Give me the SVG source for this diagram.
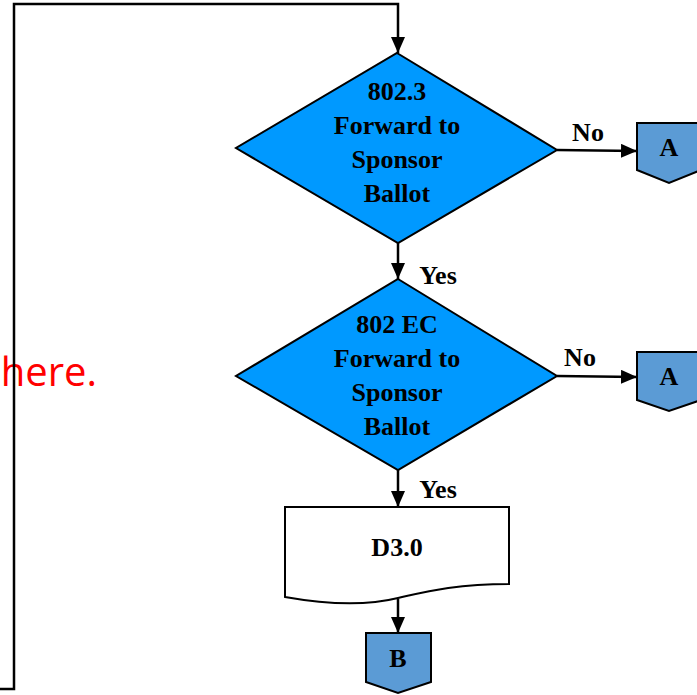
<svg xmlns="http://www.w3.org/2000/svg" width="697" height="695" viewBox="0 0 697 695">
<defs>
<marker id="arr" markerWidth="16" markerHeight="14" refX="16" refY="7" orient="auto" markerUnits="userSpaceOnUse" viewBox="0 0 16 14"><path d="M0,0 L16,7 L0,14 Z" fill="#000"/></marker>
<style>
.lbl{font-family:"Liberation Serif",serif;font-weight:bold;font-size:26px;fill:#000;text-anchor:middle}
.dia{fill:#0099ff;stroke:#000;stroke-width:2}
.off{fill:#5b9bd5;stroke:#000;stroke-width:2}
.con{fill:none;stroke:#000;stroke-width:2.5}
</style>
</defs>
<rect width="697" height="695" fill="#fff"/>
<text x="97" y="386" font-family="Open Sans, sans-serif" font-size="40" fill="#ff0000" text-anchor="end">here.</text>
<g id="connectors">
<path class="con" d="M0,689 H14 V4 H398 V53" marker-end="url(#arr)"/>
<path class="con" d="M557,150 L637,151" marker-end="url(#arr)"/>
<path class="con" d="M398,243 V279" marker-end="url(#arr)"/>
<path class="con" d="M557,376 L637,377" marker-end="url(#arr)"/>
<path class="con" d="M398,470 V507" marker-end="url(#arr)"/>
<path class="con" d="M398,599 V633" marker-end="url(#arr)"/>
<text class="lbl" x="588" y="141">No</text>
<text class="lbl" x="580" y="366">No</text>
<text class="lbl" x="438" y="284">Yes</text>
<text class="lbl" x="438" y="498">Yes</text>
</g>
<g id="d1">
<polygon class="dia" points="397,53 557,150 398,243 236,148"/>
<text class="lbl" x="397" y="100">802.3</text>
<text class="lbl" x="397" y="134">Forward to</text>
<text class="lbl" x="397" y="168">Sponsor</text>
<text class="lbl" x="397" y="202">Ballot</text>
</g>
<g id="d2">
<polygon class="dia" points="398,279 557,376 398,470 236,376"/>
<text class="lbl" x="397" y="333">802 EC</text>
<text class="lbl" x="397" y="367">Forward to</text>
<text class="lbl" x="397" y="401">Sponsor</text>
<text class="lbl" x="397" y="435">Ballot</text>
</g>
<g id="a1">
<polygon class="off" points="637,123 701,123 701,170 669,183 637,170"/>
<text class="lbl" x="669" y="156">A</text>
</g>
<g id="a2">
<polygon class="off" points="637,352 701,352 701,400 669,411 637,400"/>
<text class="lbl" x="669" y="385">A</text>
</g>
<g id="doc">
<path d="M285,507 H509 V584 C455,584 425,592 398,598 C370,605 330,605 285,597 Z" fill="#fff" stroke="#000" stroke-width="2"/>
<text class="lbl" x="397" y="556">D3.0</text>
</g>
<g id="b">
<polygon class="off" points="366,633 431,633 431,682 398,693 366,682"/>
<text class="lbl" x="398" y="667">B</text>
</g>
</svg>
